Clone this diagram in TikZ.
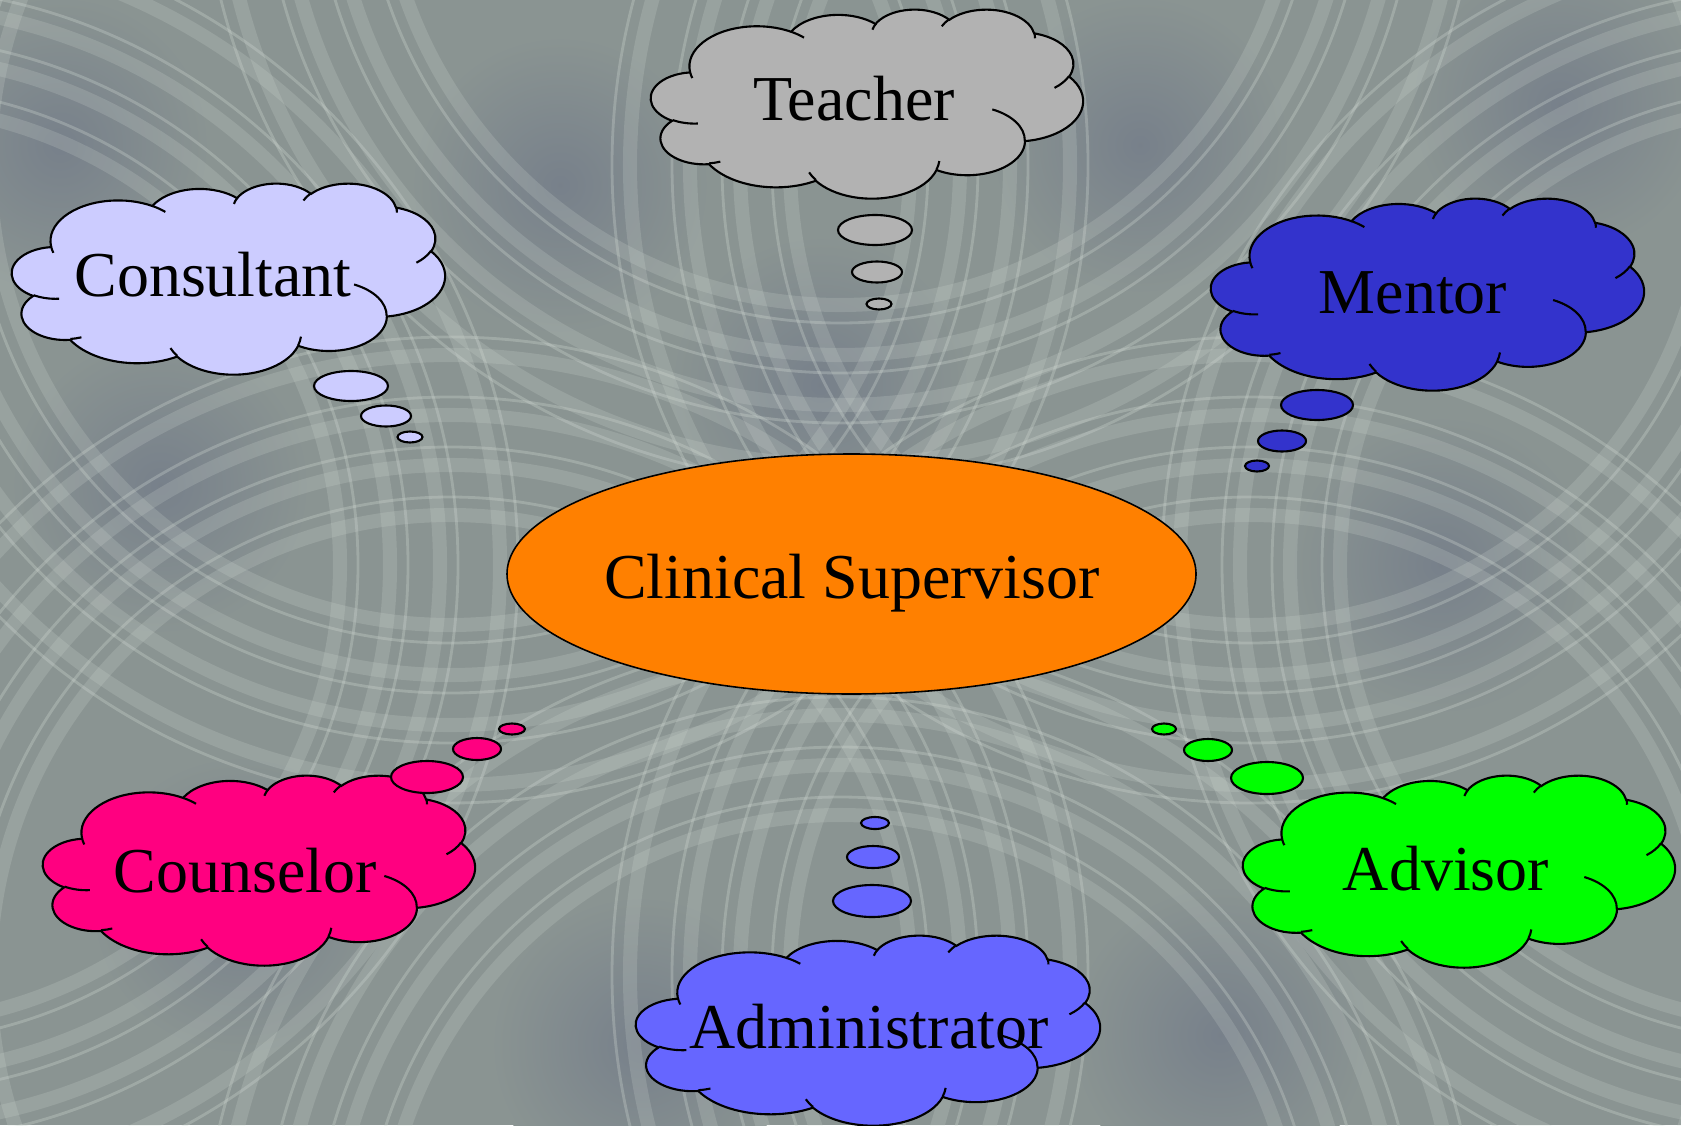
\documentclass[tikz,border=0pt]{standalone}
\usepackage{fontspec}
\setmainfont{Liberation Serif}
\usetikzlibrary{shapes.geometric}
\definecolor{backdrop}{RGB}{138,148,146}
\definecolor{patchblue}{RGB}{104,112,132}
\definecolor{swirllight}{RGB}{210,218,212}
\definecolor{supervisororange}{RGB}{255,128,0}
\definecolor{teachergray}{RGB}{178,178,178}
\definecolor{consultantlilac}{RGB}{204,204,255}
\definecolor{mentorblue}{RGB}{51,51,204}
\definecolor{advisorgreen}{RGB}{0,255,0}
\definecolor{counselorpink}{RGB}{255,0,128}
\definecolor{adminblue}{RGB}{102,102,255}

\tikzset{
  cloudline/.style={draw=black,line width=0.6pt},
  bubble/.style={draw=black,line width=0.6pt},
  hub/.style={ellipse,draw=black,line width=0.45pt,fill=supervisororange,
    minimum width=6.89cm,minimum height=2.4cm,inner sep=0pt},
  rolelabel/.style={anchor=base,inner sep=0pt,font=\fontsize{18.2}{22}\selectfont},
  swirl/.style={swirllight,opacity=0.2,line width=4pt},
  thinswirl/.style={swirllight,opacity=0.3,line width=0.8pt},
}

% cloud outline, 432 units across each way, centre at the origin
\newcommand{\thoughtcloud}[4]{% #1 centre, #2 width (cm), #3 height (cm), #4 fill
  \begin{scope}[shift={#1},x=#2cm/432,y=-#3cm/432]
    \filldraw[cloudline,fill=#4] (-177,-72.3)
      \foreach \sa/\da/\rx/\ry in {
        -187.745/128.10/67.53/91.90, -152.04/106.57/53.33/72.67,
        -153.49/116.16/43.65/59.45, -139.70/129.49/48.57/65.95,
        -74.77/97.98/53.33/72.73, -37.52/119.38/67.75/92.20,
        0.46/121.52/57.85/78.67, 16.84/129.38/67.52/92.15,
        58.99/91.19/77.20/105.43, 83.31/139.80/43.60/59.18,
        120.36/143.75/43.45/59.45}
      {arc[start angle=\sa,delta angle=\da,x radius=\rx,y radius=\ry]} -- cycle;
    % creases inside the puffs
    \draw[cloudline]
      \foreach \px/\py/\sa/\da/\rx/\ry in {
        -169.07/45.77/85.55/34.81/43.45/59.45,
        -146.72/132.99/68.24/15.07/43.60/59.18,
        -51.22/174.90/146.22/12.26/67.52/92.15,
        72.27/131.51/4.74/12.10/67.52/92.15,
        125.29/13.54/-64.03/64.49/57.85/78.67,
        201.98/-62.46/23.21/26.43/53.33/72.73,
        167.24/-161.74/-10.21/11.03/48.57/65.95,
        74.78/-176.48/-156.29/16.59/48.57/65.95,
        5.41/-168.80/-167.73/14.24/43.65/59.45,
        -76.00/-164.08/-59.64/13.89/67.53/91.90,
        -174.73/-58.11/163.20/9.05/67.53/91.90}
      {(\px,\py) arc[start angle=\sa,delta angle=\da,x radius=\rx,y radius=\ry]};
  \end{scope}}

\begin{document}
\begin{tikzpicture}
\useasboundingbox (0,0) rectangle (16.81,11.25);

% backdrop
\begin{scope}
\clip (0,0) rectangle (16.81,11.25);
\fill[backdrop] (0,0) rectangle (16.81,11.25);
\foreach \x/\y in {1.6/6.4,2.4/2.2,5.6/9.4,11.4/9.8,14.4/5.6,6.4/0.8,12.2/0.9,15.6/10.2,8.2/7.4,0.6/9.8}
  \shade[inner color=patchblue!55!backdrop,outer color=backdrop] (\x,\y) circle (1.5);
\foreach \cx/\cy in {4.5/1.5,12.5/1.5,4.5/9.6,12.5/9.6,8.4/12.8,8.4/-1.5,-1.2/5.6,18.0/5.6}
  \foreach \r in {4.6,5.1,5.6,6.2}
  {
    \draw[swirl] (\cx,\cy) circle (\r);
    \draw[thinswirl] (\cx,\cy) circle (\r+0.18);
  }
\end{scope}

% centre
\node[hub] (supervisor) at (8.515,5.51) {};
\node[rolelabel] (supervisor-text) at (8.52,5.27) {Clinical Supervisor};

% Teacher
\thoughtcloud{(8.67,10.215)}{4.32}{1.89}{teachergray}
\filldraw[bubble,fill=teachergray] (8.75,8.95) ellipse [x radius=0.37,y radius=0.15];
\filldraw[bubble,fill=teachergray] (8.77,8.53) ellipse [x radius=0.25,y radius=0.105];
\filldraw[bubble,fill=teachergray] (8.79,8.21) ellipse [x radius=0.125,y radius=0.055];
\node[rolelabel] (teacher) at (8.54,10.04) {Teacher};

% Consultant
\thoughtcloud{(2.285,8.465)}{4.33}{1.91}{consultantlilac}
\filldraw[bubble,fill=consultantlilac] (3.51,7.39) ellipse [x radius=0.37,y radius=0.15];
\filldraw[bubble,fill=consultantlilac] (3.86,7.09) ellipse [x radius=0.25,y radius=0.105];
\filldraw[bubble,fill=consultantlilac] (4.10,6.88) ellipse [x radius=0.125,y radius=0.055];
\node[rolelabel] (consultant) at (2.13,8.28) {Consultant};

% Mentor
\thoughtcloud{(14.275,8.31)}{4.33}{1.92}{mentorblue}
\filldraw[bubble,fill=mentorblue] (13.17,7.20) ellipse [x radius=0.36,y radius=0.15];
\filldraw[bubble,fill=mentorblue] (12.82,6.84) ellipse [x radius=0.24,y radius=0.105];
\filldraw[bubble,fill=mentorblue] (12.57,6.59) ellipse [x radius=0.12,y radius=0.055];
\node[rolelabel] (mentor) at (14.13,8.12) {Mentor};

% Advisor
\thoughtcloud{(14.59,2.54)}{4.32}{1.92}{advisorgreen}
\filldraw[bubble,fill=advisorgreen] (12.67,3.47) ellipse [x radius=0.36,y radius=0.16];
\filldraw[bubble,fill=advisorgreen] (12.08,3.75) ellipse [x radius=0.24,y radius=0.11];
\filldraw[bubble,fill=advisorgreen] (11.64,3.96) ellipse [x radius=0.12,y radius=0.055];
\node[rolelabel] (advisor) at (14.46,2.35) {Advisor};

% Counselor
\thoughtcloud{(2.59,2.55)}{4.32}{1.90}{counselorpink}
\filldraw[bubble,fill=counselorpink] (4.27,3.48) ellipse [x radius=0.36,y radius=0.16];
\filldraw[bubble,fill=counselorpink] (4.77,3.76) ellipse [x radius=0.24,y radius=0.11];
\filldraw[bubble,fill=counselorpink] (5.12,3.96) ellipse [x radius=0.13,y radius=0.055];
\node[rolelabel] (counselor) at (2.45,2.33) {Counselor};

% Administrator
\thoughtcloud{(8.68,0.95)}{4.64}{1.90}{adminblue}
\filldraw[bubble,fill=adminblue] (8.72,2.24) ellipse [x radius=0.39,y radius=0.16];
\filldraw[bubble,fill=adminblue] (8.73,2.68) ellipse [x radius=0.26,y radius=0.11];
\filldraw[bubble,fill=adminblue] (8.75,3.02) ellipse [x radius=0.14,y radius=0.06];
\node[rolelabel] (administrator) at (8.69,0.77) {Administrator};
\end{tikzpicture}
\end{document}
